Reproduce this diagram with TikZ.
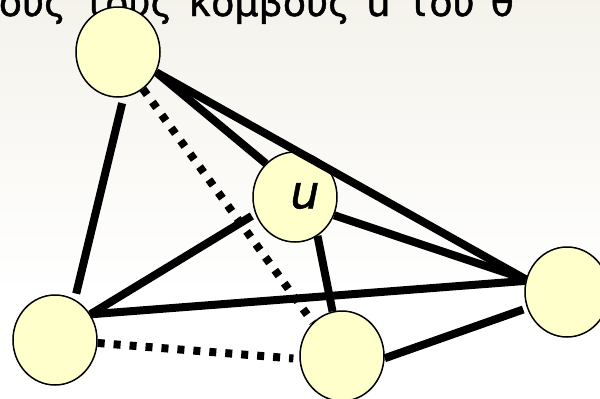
\documentclass[tikz,border=0pt]{standalone}
\usepackage{fontspec}
\setmainfont{DejaVu Sans}
\newfontfamily\headfont[FakeBold=1.2]{DejaVu Sans}
\usetikzlibrary{shapes.geometric}
\definecolor{bgtop}{RGB}{237,234,222}
\definecolor{vfill}{RGB}{255,255,204}
\pgfdeclareverticalshading{bgshade}{100bp}{color(0bp)=(white); color(38bp)=(white); color(100bp)=(bgtop)}
\begin{document}
\begin{tikzpicture}[x=1pt,y=-1pt,
  vertex/.style={ellipse, draw=black, line width=1.5pt, fill=vfill,
    minimum width=84pt, minimum height=90pt, inner sep=0pt},
  edge/.style={line width=8pt},
  dotedge/.style={line width=8pt, dash pattern=on 7pt off 9pt}]
  \useasboundingbox (0,0) rectangle (600,399);
  \clip (0,0) rectangle (600,399);
  \shade[shading=bgshade] (0,0) rectangle (600,399);

  % heading line
  \node[anchor=base east, inner sep=0pt, font=\headfont\fontsize{38}{44}\selectfont] (title) at (514,16)
    {\spaceskip=16pt όλους τους κόμβους u του θ};

  % vertices
  \node[vertex] (A) at (118,52) {};
  \node[vertex] (u) at (295,197) {};
  \node[vertex] (B) at (55,340) {};
  \node[vertex] (C) at (342,356) {};
  \node[vertex] (D) at (567,292) {};
  \node[font=\headfont\fontsize{46}{46}\selectfont\itshape] (ulabel) at (305,196) {u};

  % edges
  \draw[edge, shorten <=6pt, shorten >=6pt] (A.-83) -- (B.64);
  \draw[dotedge] (A.-56) -- (C.131);
  \draw[edge] (A.-28) -- (u.131);
  \draw[edge] (A.-28) -- (D.163);
  \draw[edge] (u.-25) -- (D.163);
  \draw[edge] (u.-60) -- (C.102);
  \draw[edge, shorten >=4pt] (B.36) -- (u.-157);
  \draw[edge] (B.36) -- (D.165);
  \draw[dotedge, shorten >=6pt] (B.-4) -- (C.-176);
  \draw[edge, shorten >=4pt] (C.-3) -- (D.-158);
\end{tikzpicture}
\end{document}
